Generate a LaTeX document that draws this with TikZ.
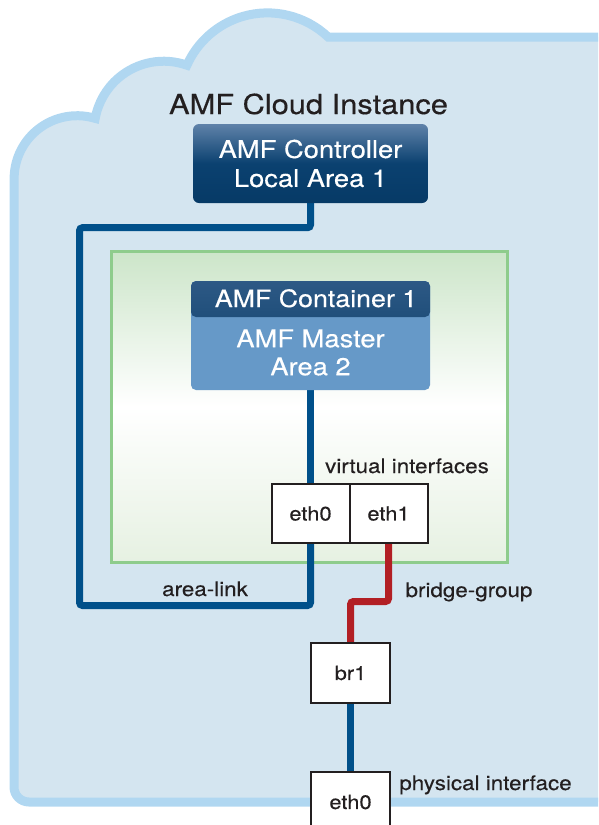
\documentclass[tikz,border=0pt]{standalone}
\usepackage{fontspec}
\setmainfont{TeX Gyre Heros}[FakeStretch=1.12,FakeBold=0.35]
\definecolor{cloudfill}{HTML}{D4E5F0}
\definecolor{cloudline}{HTML}{B0D7F1}
\definecolor{navy}{HTML}{063A66}
\definecolor{navymid}{HTML}{0B4170}
\definecolor{navytop}{HTML}{5F82A9}
\definecolor{headtop}{HTML}{2D5985}
\definecolor{steel}{HTML}{6699C8}
\definecolor{vmline}{HTML}{8ECC8C}
\definecolor{vmtop}{HTML}{CCE5C9}
\definecolor{vmbot}{HTML}{E6F1E2}
\definecolor{wireblue}{HTML}{00508A}
\definecolor{wirered}{HTML}{B21F24}
\definecolor{ink}{HTML}{231F20}
\pgfdeclarelayer{back}
\pgfdeclarelayer{wires}
\pgfsetlayers{back,wires,main}
\tikzset{
  ifbox/.style={draw=ink, line width=2pt, fill=white, minimum width=79pt, minimum height=60pt,
    inner sep=0pt, text=ink, font=\fontsize{19.5}{22}\selectfont},
  lbl/.style={anchor=base, text=ink, font=\fontsize{20}{24}\selectfont, inner sep=0pt},
  bluewire/.style={draw=wireblue, line width=7pt, rounded corners=3pt},
  redwire/.style={draw=wirered, line width=7pt, rounded corners=3pt},
}
\begin{document}
\begin{tikzpicture}[x=1pt,y=-1pt]
\useasboundingbox (0,0) rectangle (598,825);
\begin{pgfonlayer}{back}
  \clip (0,0) rectangle (598,825);
  \path[fill=cloudfill, draw=cloudline, line width=9pt]
    (630,37) -- (328.1,37)
    arc[start angle=-46.6, end angle=-156, radius=88.2]
    arc[start angle=-70.5, end angle=-169.7, radius=69.6]
    arc[start angle=-73.3, end angle=-180, radius=63]
    -- (14,787) arc[start angle=180, end angle=90, radius=15]
    -- (615,802) arc[start angle=90, end angle=0, radius=15]
    -- cycle;
  \node[draw=vmline, line width=3pt, top color=vmtop, bottom color=vmbot, middle color=white,
        minimum width=396pt, minimum height=311pt, inner sep=0pt] (vm) at (309,406.5) {};
\end{pgfonlayer}
\clip (0,0) rectangle (598,825);

\node[anchor=base, text=ink, inner sep=0pt, font=\fontsize{27.5}{30}\selectfont] (title) at (308.5,114) {AMF Cloud Instance};

\node[rounded corners=6pt, top color=navytop, bottom color=navy, middle color=navymid,
      minimum width=235pt, minimum height=79pt, inner sep=0pt, align=center, text=white,
      font=\fontsize{24.4}{29}\selectfont] (ctrl) at (310.5,163.5) {AMF Controller\\Local Area 1};

\node[rounded corners=5pt, fill=steel, minimum width=239pt, minimum height=109pt, inner sep=0pt,
      path picture={\shade[top color=headtop, bottom color=navy]
        (path picture bounding box.north west) rectangle ([yshift=-36pt]path picture bounding box.north east);}]
      (master) at (310.5,335.5) {};
\node[anchor=base, text=white, inner sep=0pt, font=\fontsize{23.9}{28}\selectfont] (conttitle) at (316,307) {AMF Container 1};
\node[align=center, text=white, inner sep=0pt, font=\fontsize{24.4}{28}\selectfont] (mastertxt) at (310.5,352.5) {AMF Master\\Area 2};

\node[ifbox, minimum width=78pt, minimum height=59pt] (eth0v) at (310.5,513.5) {eth0};
\node[ifbox, minimum width=78pt, minimum height=59pt] (eth1v) at (388.5,513.5) {eth1};
\node[ifbox] (br1) at (350.5,673) {br1};
\node[ifbox] (eth0p) at (350.5,802) {eth0};

\node[lbl] (vlbl) at (407,473) {virtual interfaces};
\node[lbl] (alink) at (205,596) {area-link};
\node[lbl] (bgrp) at (469,597) {bridge-group};
\node[lbl] (phys) at (485.5,790) {physical interface};

\begin{pgfonlayer}{wires}
  \draw[bluewire] (ctrl.south) -- ++(0,24.5) -| (79.5,605.5) -| (eth0v.south);
  \draw[bluewire] (master.south) -- (eth0v.north);
  \draw[redwire] (eth1v.south) -- ++(0,57.5) -| (br1.north);
  \draw[bluewire] (br1.south) -- (eth0p.north);
\end{pgfonlayer}
\end{tikzpicture}
\end{document}
